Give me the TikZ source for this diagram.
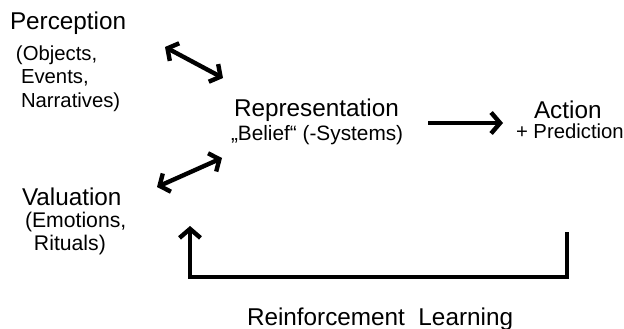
\documentclass[tikz,border=0pt]{standalone}
\usepackage{fontspec}
\setmainfont{Liberation Sans}
\usetikzlibrary{arrows.meta}
\begin{document}
\begin{tikzpicture}[x=1pt,y=-1pt,
  lbl/.style={anchor=base west,inner sep=0pt,outer sep=0pt},
  big/.style={lbl,font=\fontsize{24.3}{27}\selectfont},
  small/.style={lbl,font=\fontsize{20.3}{23}\selectfont},
  arr/.style={line width=4.4pt,-{Straight Barb[length=9pt,width=21pt,line width=4.4pt]}},
  darr/.style={line width=4.4pt,{Straight Barb[length=8pt,width=20pt,line width=4.4pt]}-{Straight Barb[length=8pt,width=20pt,line width=4.4pt]}},
]
\useasboundingbox (0,0) rectangle (624,329);
% labels
\node[big] (perc) at (10,30) {Perception};
\node[small] (obj) at (16,61) {(Objects,};
\node[small] (evt) at (21,84) {Events,};
\node[small] (nar) at (21,107) {Narratives)};
\node[big] (rep) at (234,116) {Representation};
\node[lbl,font=\fontsize{20.8}{23}\selectfont] (bel) at (231,140) {„Belief“ (-Systems)};
\node[big] (act) at (534,118) {Action};
\node[small] (pred) at (516,138) {+ Prediction};
\node[big] (val) at (22,205) {Valuation};
\node[lbl,font=\fontsize{21.2}{23}\selectfont] (emo) at (25,227) {(Emotions,};
\node[lbl,font=\fontsize{21.2}{23}\selectfont] (rit) at (34,250) {Rituals)};
\node[lbl,font=\fontsize{24.3}{27}\selectfont] (rl) at (247,325) {Reinforcement\ \ Learning};
% coordinates
\coordinate (a1s) at (165,47);
\coordinate (a1e) at (223,78);
\coordinate (a2s) at (157,187);
\coordinate (a2e) at (222,158);
\coordinate (hs) at (428,123);
\coordinate (he) at (503,123);
\coordinate (ls) at (567,232);
\coordinate (lc1) at (567,277);
\coordinate (lc2) at (190,277);
\coordinate (le) at (190,226);
% arrows
\draw[darr] (a1s) -- (a1e);
\draw[darr] (a2s) -- (a2e);
\draw[arr] (hs) -- (he);
\draw[arr,line join=miter] (ls) -- (lc1) -- (lc2) -- (le);
\end{tikzpicture}
\end{document}
